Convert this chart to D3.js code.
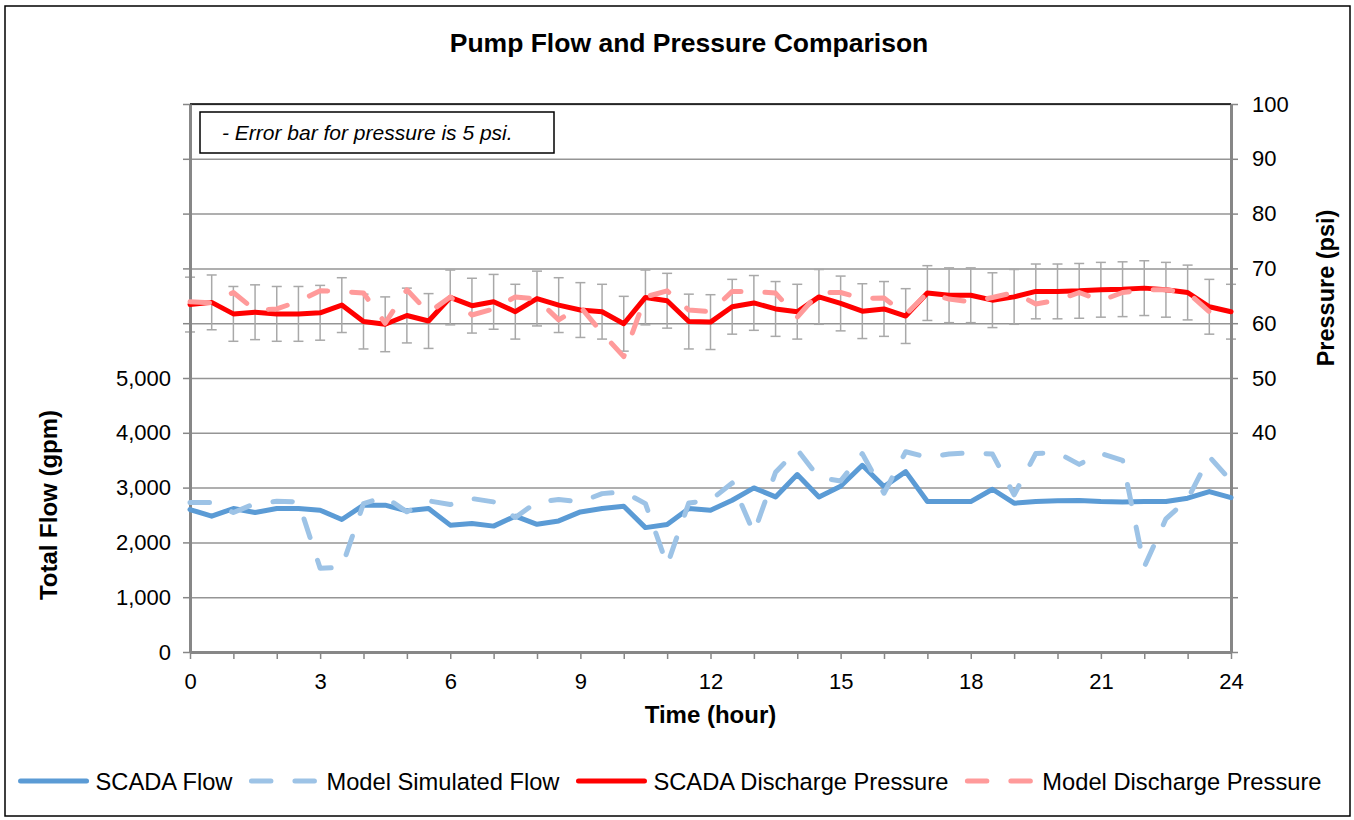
<!DOCTYPE html>
<html>
<head>
<meta charset="utf-8">
<script src="https://cdn.jsdelivr.net/npm/d3@7"></script>
<style>
  body { margin: 0; background: #fff; }
  text { font-family: "Liberation Sans", Arial, sans-serif; }
</style>
</head>
<body>
<div id="chart"></div>
<script>
// data (half-hour steps)
var hours = [0, 0.5, 1, 1.5, 2, 2.5, 3, 3.5, 4, 4.5, 5, 5.5, 6, 6.5, 7, 7.5, 8, 8.5, 9, 9.5,
  10, 10.5, 11, 11.5, 12, 12.5, 13, 13.5, 14, 14.5, 15, 15.5, 16, 16.5, 17, 17.5, 18, 18.5, 19, 19.5,
  20, 20.5, 21, 21.5, 22, 22.5, 23, 23.5, 24];

var scadaFlow = [2600, 2479, 2618, 2545, 2618, 2618, 2588, 2418, 2679, 2679, 2576, 2618, 2315, 2345, 2297, 2479, 2330,
  2392, 2556, 2617, 2660, 2270, 2325, 2617, 2587, 2769, 2994, 2830, 3237, 2830, 3024, 3407, 3018, 3291,
  2745, 2745, 2745, 2970, 2715, 2745, 2758, 2764, 2745, 2739, 2745, 2745, 2806, 2927, 2818];

var modelFlow = [2727, 2727, 2545, 2709, 2751, 2739, 1527, 1545, 2709, 2830, 2558, 2758, 2691, 2800, 2739, 2455, 2739,
  2781, 2739, 2890, 2921, 2708, 1584, 2720, 2769, 3085, 2173, 3280, 3693, 3182, 3122, 3620, 2897, 3655,
  3552, 3612, 3636, 3612, 2867, 3624, 3636, 3424, 3624, 3497, 1552, 2430, 2788, 3564, 3121];

var scadaPressure = [63.4, 63.8, 61.7, 62.0, 61.7, 61.7, 61.9, 63.3, 60.3, 59.8, 61.4, 60.4, 64.7, 63.2, 63.9, 62.1, 64.5,
  63.3, 62.4, 62.1, 59.9, 64.7, 64.1, 60.3, 60.2, 63.0, 63.7, 62.6, 62.1, 64.8, 63.6, 62.2, 62.6, 61.3,
  65.5, 65.1, 65.1, 64.2, 64.8, 65.8, 65.8, 65.9, 66.1, 66.2, 66.4, 66.1, 65.6, 63.0, 62.1];

var modelPressure = [63.9, 63.7, 65.6, 62.4, 62.6, 64.0, 65.9, 65.8, 65.5, 60.0, 66.1, 61.9, 64.8, 61.5, 62.6, 64.8, 64.4,
  60.6, 63.0, 58.2, 53.9, 64.8, 65.9, 62.4, 62.1, 65.8, 65.8, 65.5, 61.1, 65.6, 65.6, 64.5, 64.6, 61.6,
  65.5, 64.4, 63.9, 64.7, 65.6, 63.5, 64.2, 65.6, 64.1, 65.6, 66.1, 66.1, 65.6, 62.1, 63.0];

var errorPsi = 5;

var flowTicks = [0, 1000, 2000, 3000, 4000, 5000, 6000, 7000, 8000, 9000, 10000];
var flowLabels = [0, 1000, 2000, 3000, 4000, 5000];
var pressureTicks = [0, 10, 20, 30, 40, 50, 60, 70, 80, 90, 100];
var pressureLabels = [40, 50, 60, 70, 80, 90, 100];
var hourTicks = [0, 1, 2, 3, 4, 5, 6, 7, 8, 9, 10, 11, 12, 13, 14, 15, 16, 17, 18, 19, 20, 21, 22, 23, 24];
var hourLabels = [0, 3, 6, 9, 12, 15, 18, 21, 24];

var seriesNames = ["SCADA Flow", "Model Simulated Flow", "SCADA Discharge Pressure", "Model Discharge Pressure"];

// set the dimensions and margins of the graph
var W = 1354, H = 820;
var margin = {top: 104, right: 123, bottom: 168, left: 190},
    width = W - margin.left - margin.right,
    height = H - margin.top - margin.bottom;

var gridColor = "#959595", axisColor = "#878787";

var svg = d3.select("#chart")
  .append("svg")
    .attr("width", W)
    .attr("height", H);

// outer chart border
svg.append("rect")
  .attr("x", 5).attr("y", 6)
  .attr("width", 1345).attr("height", 810)
  .attr("fill", "none")
  .attr("stroke", "#000")
  .attr("stroke-width", 1.5);

var g = svg.append("g")
  .attr("transform", "translate(" + margin.left + "," + margin.top + ")");

// scales
var x = d3.scaleLinear().domain([0, 24]).range([0, width]);
var yFlow = d3.scaleLinear().domain([0, 10000]).range([height, 0]);
var yPress = d3.scaleLinear().domain([0, 100]).range([height, 0]);

// gridlines
g.append("g")
  .attr("class", "grid")
  .call(d3.axisLeft(yFlow).tickValues(flowTicks).tickSize(-width).tickFormat(""))
  .call(function(s) {
    s.select(".domain").remove();
    s.selectAll("line").attr("stroke", gridColor).attr("stroke-width", 1.5);
  });

// top border of plot area
g.append("line")
  .attr("x1", 0).attr("x2", width)
  .attr("y1", 0).attr("y2", 0)
  .attr("stroke", "#000")
  .attr("stroke-width", 1.5);

// error bars on scada pressure
var eb = g.append("g").attr("class", "errorbars");
hours.forEach(function(h, i) {
  var cx = x(h), lo = yPress(scadaPressure[i] - errorPsi), hi = yPress(scadaPressure[i] + errorPsi);
  eb.append("line").attr("x1", cx).attr("x2", cx).attr("y1", lo).attr("y2", hi);
  eb.append("line").attr("x1", cx - 5).attr("x2", cx + 5).attr("y1", lo).attr("y2", lo);
  eb.append("line").attr("x1", cx - 5).attr("x2", cx + 5).attr("y1", hi).attr("y2", hi);
});
eb.selectAll("line").attr("stroke", "#a9a9a9").attr("stroke-width", 1.5);

// axes
function styleAxis(s) {
  s.select(".domain").attr("stroke", axisColor).attr("stroke-width", 3);
  s.selectAll(".tick line").attr("stroke", axisColor).attr("stroke-width", 1.5);
  s.selectAll("text").attr("fill", "#000").style("font-size", "22px")
    .style("font-family", "'Liberation Sans', Arial, sans-serif");
}

g.append("g")
  .call(d3.axisLeft(yFlow).tickValues(flowTicks).tickSize(7).tickSizeOuter(0).tickPadding(12)
    .tickFormat(function(d) { return flowLabels.indexOf(d) >= 0 ? d3.format(",")(d) : ""; }))
  .call(styleAxis);

g.append("g")
  .attr("transform", "translate(" + width + ",0)")
  .call(d3.axisRight(yPress).tickValues(pressureTicks).tickSize(7).tickSizeOuter(0).tickPadding(14)
    .tickFormat(function(d) { return pressureLabels.indexOf(d) >= 0 ? d : ""; }))
  .call(styleAxis);

g.append("g")
  .attr("transform", "translate(0," + height + ")")
  .call(d3.axisBottom(x).tickValues(hourTicks).tickSize(7).tickSizeOuter(0).tickPadding(14)
    .tickFormat(function(d) { return hourLabels.indexOf(d) >= 0 ? d : ""; }))
  .call(styleAxis);

// lines
var flowLine = function(vals) {
  return d3.line().x(function(d, i) { return x(hours[i]); }).y(function(d) { return yFlow(d); })(vals);
};
var pressLine = function(vals) {
  return d3.line().x(function(d, i) { return x(hours[i]); }).y(function(d) { return yPress(d); })(vals);
};

var styles = [
  {color: "#5b9bd5", dash: null},
  {color: "#9dc3e6", dash: "19.5,24"},
  {color: "#ff0000", dash: null},
  {color: "#ff9a9a", dash: "19.5,24"}
];
var paths = [flowLine(scadaFlow), flowLine(modelFlow), pressLine(scadaPressure), pressLine(modelPressure)];

paths.forEach(function(p, i) {
  g.append("path")
    .attr("d", p)
    .attr("fill", "none")
    .attr("stroke", styles[i].color)
    .attr("stroke-width", 5)
    .attr("stroke-linecap", "round")
    .attr("stroke-linejoin", "round")
    .attr("stroke-dasharray", styles[i].dash);
});

// note box
svg.append("rect")
  .attr("x", 200).attr("y", 112)
  .attr("width", 354).attr("height", 41)
  .attr("fill", "#fff")
  .attr("stroke", "#000")
  .attr("stroke-width", 1.5);
svg.append("text")
  .attr("x", 222).attr("y", 140)
  .style("font-size", "21px")
  .style("font-style", "italic")
  .text("- Error bar for pressure is 5 psi.");

// titles
svg.append("text")
  .attr("x", 689).attr("y", 52)
  .attr("text-anchor", "middle")
  .style("font-size", "26.5px").style("font-weight", "bold")
  .text("Pump Flow and Pressure Comparison");

svg.append("text")
  .attr("x", margin.left + width / 2).attr("y", 723)
  .attr("text-anchor", "middle")
  .style("font-size", "24px").style("font-weight", "bold")
  .text("Time (hour)");

svg.append("text")
  .attr("transform", "translate(57,505)rotate(-90)")
  .attr("text-anchor", "middle")
  .style("font-size", "24px").style("font-weight", "bold")
  .text("Total Flow (gpm)");

svg.append("text")
  .attr("transform", "translate(1334,288)rotate(-90)")
  .attr("text-anchor", "middle")
  .style("font-size", "23.5px").style("font-weight", "bold")
  .text("Pressure (psi)");

// legend
var legend = svg.append("g");
var lx = 0;
seriesNames.forEach(function(name, i) {
  var item = legend.append("g").attr("transform", "translate(" + lx + ",0)");
  item.append("line")
    .attr("x1", 2).attr("x2", 68)
    .attr("y1", 781).attr("y2", 781)
    .attr("stroke", styles[i].color)
    .attr("stroke-width", 5)
    .attr("stroke-linecap", "round")
    .attr("stroke-dasharray", styles[i].dash);
  var t = item.append("text")
    .attr("x", 77).attr("y", 790)
    .style("font-size", "23.7px")
    .text(name);
  lx += 77 + t.node().getComputedTextLength() + 17;
});
legend.attr("transform", "translate(" + (670 - (lx - 17) / 2) + ",0)");
</script>
</body>
</html>
